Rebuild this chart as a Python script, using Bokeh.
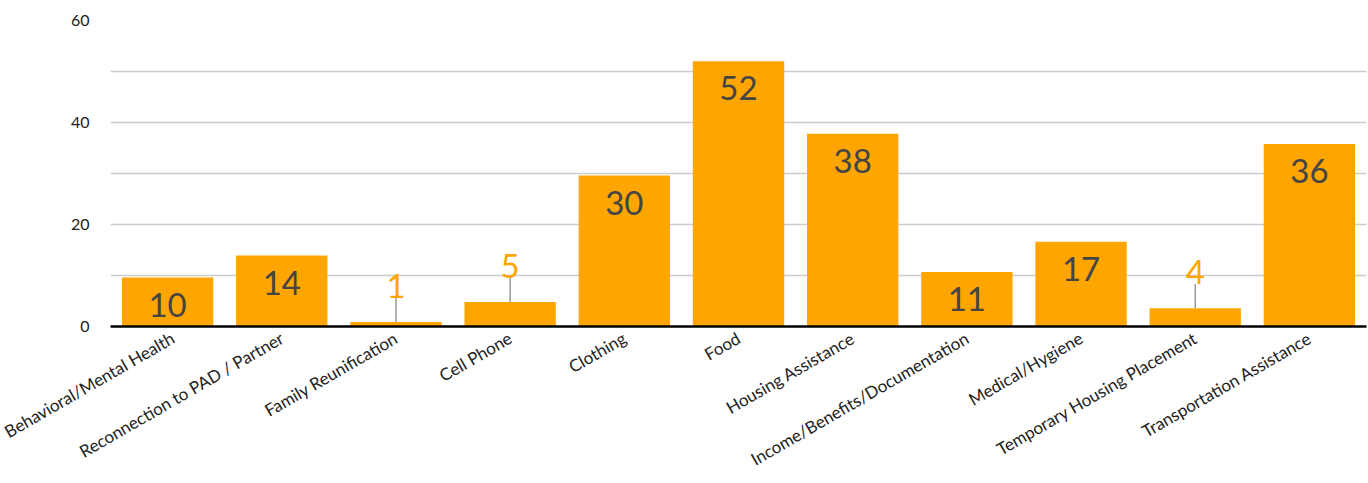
import numpy as np
from bokeh.plotting import figure
from bokeh.models import ColumnDataSource, FactorRange, Range1d, FixedTicker
from bokeh.core.properties import value
from bokeh.embed import file_html
from bokeh.resources import INLINE

categories = [
    "Behavioral/Mental Health",
    "Reconnection to PAD / Partner",
    "Family Reunification",
    "Cell Phone",
    "Clothing",
    "Food",
    "Housing Assistance",
    "Income/Benefits/Documentation",
    "Medical/Hygiene",
    "Temporary Housing Placement",
    "Transportation Assistance",
]
values = [9.6, 13.9, 0.9, 4.8, 29.6, 52.0, 37.8, 10.7, 16.6, 3.6, 35.8]
y_ticks = [0, 20, 40, 60]
grid_ticks = [0, 10, 20, 30, 40, 50, 60]

FONT = "Lato"
BAR = "#FFA500"

vals = np.array(values)
labels = [str(int(round(v))) for v in values]
inside = vals >= 6

src = ColumnDataSource(dict(cat=categories, val=values))
src_in = ColumnDataSource(dict(
    cat=[c for c, k in zip(categories, inside) if k],
    val=[v for v, k in zip(values, inside) if k],
    lab=[l for l, k in zip(labels, inside) if k],
))
src_out = ColumnDataSource(dict(
    cat=[c for c, k in zip(categories, inside) if not k],
    val=[v for v, k in zip(values, inside) if not k],
    top=[v + 4.7 for v, k in zip(values, inside) if not k],
    lab=[l for l, k in zip(labels, inside) if not k],
))

p = figure(
    x_range=FactorRange(*categories, range_padding=0),
    y_range=Range1d(0, 60),
    width=1368, height=483,
    output_backend="svg", toolbar_location=None,
    min_border_left=110, min_border_right=2,
    min_border_top=20, min_border_bottom=157,
)
p.outline_line_color = None
p.background_fill_color = "white"

p.vbar(x="cat", top="val", width=0.8, source=src, color=BAR, line_color=None)

p.text(x="cat", y="val", text="lab", source=src_in, y_offset=27,
       text_align="center", text_baseline="middle",
       text_font=value(FONT), text_font_size="33px", text_color="#444444")

p.segment(x0="cat", y0="val", x1="cat", y1="top", source=src_out,
          line_color="#999999", line_width=1.5)
p.text(x="cat", y="top", text="lab", source=src_out, y_offset=0,
       text_align="center", text_baseline="bottom",
       text_font=value(FONT), text_font_size="33px", text_color=BAR)

p.xgrid.grid_line_color = None
p.ygrid.ticker = FixedTicker(ticks=grid_ticks)
p.ygrid.grid_line_color = "#CCCCCC"
p.ygrid.grid_line_width = 1.5

p.yaxis.ticker = FixedTicker(ticks=y_ticks)
p.yaxis.axis_line_color = None
p.yaxis.major_tick_line_color = None
p.yaxis.minor_tick_line_color = None
p.yaxis.major_tick_out = 0
p.yaxis.minor_tick_out = 0
p.yaxis.major_label_standoff = 21
p.yaxis.major_label_text_font = FONT
p.yaxis.major_label_text_font_size = "16px"
p.yaxis.major_label_text_color = "#222222"

p.xaxis.axis_line_color = "black"
p.xaxis.axis_line_width = 2.5
p.xaxis.major_tick_line_color = None
p.xaxis.minor_tick_line_color = None
p.xaxis.major_tick_out = 0
p.xaxis.minor_tick_out = 0
p.xaxis.major_label_orientation = np.pi / 6
p.xaxis.major_label_standoff = 10
p.xaxis.major_label_text_font = FONT
p.xaxis.major_label_text_font_size = "17px"
p.xaxis.major_label_text_color = "#222222"

open("out.html", "w").write(file_html(p, INLINE))
